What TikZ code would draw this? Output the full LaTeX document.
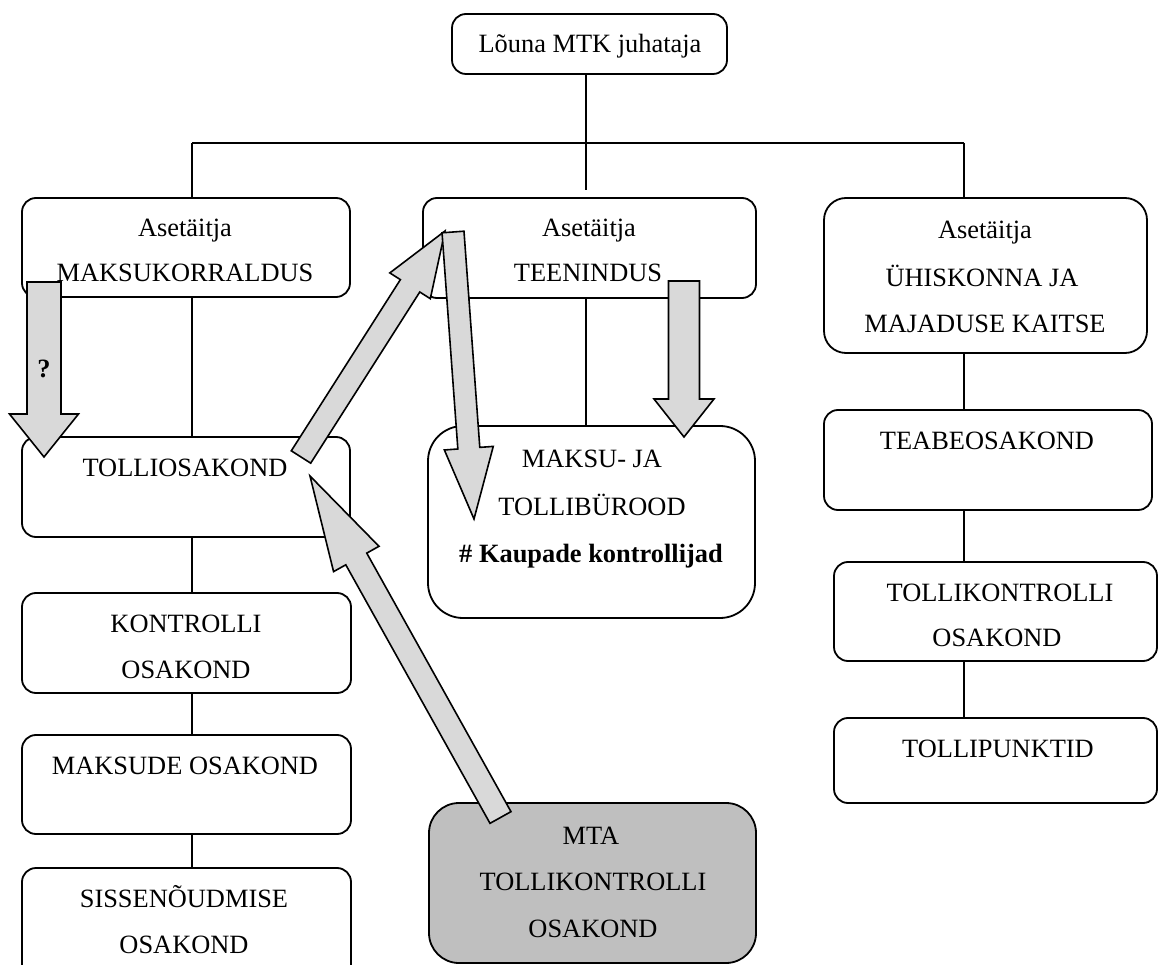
\documentclass[tikz,border=0pt]{standalone}
\usepackage{fontspec}
\setmainfont{Liberation Serif}
\usetikzlibrary{calc}
\definecolor{arrowgray}{RGB}{217,217,217}
\definecolor{boxgray}{RGB}{191,191,191}
% block arrow: tail, tip, shaft half width, head half width, head length
\newcommand{\blockarr}[5]{%
  \path ($(#2)!#5!(#1)$) coordinate (hb);
  \draw[barrow] ($(#1)!#3!90:(#2)$) -- ($(hb)!#3!90:(#2)$) -- ($(hb)!#4!90:(#2)$)
    -- (#2) -- ($(hb)!#4!-90:(#2)$) -- ($(hb)!#3!-90:(#2)$) -- ($(#1)!#3!-90:(#2)$) -- cycle;
}
\begin{document}
\begin{tikzpicture}[x=1pt,y=-1pt,
  box/.style={draw, line width=1.8pt, rounded corners=14pt, inner sep=0pt, fill=white},
  txt/.style={inner sep=0pt, anchor=base, font=\fontsize{26.4}{30}\selectfont},
  btxt/.style={txt, font=\fontsize{26.4}{30}\selectfont\bfseries},
  conn/.style={line width=1.8pt},
  barrow/.style={draw, fill=arrowgray, line width=1.6pt, line join=miter, miter limit=10}]
\useasboundingbox (0,0) rectangle (1160,965);
\clip (0,0) rectangle (1160,965);
\fill[white] (0,0) rectangle (1160,965);

% helper coordinates for connector columns
\coordinate (lx) at (192,0);
\coordinate (mx) at (586,0);
\coordinate (rx) at (964,0);
\coordinate (busL) at (192,143);
\coordinate (busR) at (964,143);
\coordinate (stub) at (586,190);

% boxes
\node[box, minimum width=275pt, minimum height=60pt] (top) at (589.5,44) {};
\node[box, minimum width=328pt, minimum height=99pt] (mk) at (186,247.5) {};
\node[box, minimum width=333pt, minimum height=100pt] (te) at (589.5,248) {};
\node[box, minimum width=323pt, minimum height=155pt, rounded corners=22pt] (uh) at (985.5,275.5) {};
\node[box, minimum width=328pt, minimum height=100pt] (tol) at (186,487) {};
\node[box, minimum width=329pt, minimum height=100pt] (kon) at (186.5,643) {};
\node[box, minimum width=329pt, minimum height=99pt] (mak) at (186.5,784.5) {};
\node[box, minimum width=329pt, minimum height=122pt] (sis) at (186.5,929) {};
\node[box, minimum width=327pt, minimum height=192pt, rounded corners=35pt] (mtb) at (591.5,522) {};
\node[box, minimum width=327pt, minimum height=160pt, rounded corners=30pt, fill=boxgray] (mta) at (592.5,883) {};
\node[box, minimum width=328pt, minimum height=100pt] (teab) at (988,460) {};
\node[box, minimum width=323pt, minimum height=99pt] (tk) at (995.5,611.5) {};
\node[box, minimum width=323pt, minimum height=85pt] (tp) at (995.5,760.5) {};

% connectors
\draw[conn] (mx |- top.south) -- (stub);
\draw[conn] (busL) -- (busR);
\draw[conn] (busL) -- (busL |- mk.north);
\draw[conn] (busR) -- (busR |- uh.north);
\draw[conn] (lx |- mk.south) -- (lx |- tol.north);
\draw[conn] (lx |- tol.south) -- (lx |- kon.north);
\draw[conn] (lx |- kon.south) -- (lx |- mak.north);
\draw[conn] (lx |- mak.south) -- (lx |- sis.north);
\draw[conn] (mx |- te.south) -- (mx |- mtb.north);
\draw[conn] (rx |- uh.south) -- (rx |- teab.north);
\draw[conn] (rx |- teab.south) -- (rx |- tk.north);
\draw[conn] (rx |- tk.south) -- (rx |- tp.north);

% texts
\node[txt] (ttop) at (590,53) {Lõuna MTK juhataja};
\node[txt] (tmk1) at (185,237) {Asetäitja};
\node[txt] (tmk2) at (185,282) {MAKSUKORRALDUS};
\node[txt] (tte1) at (589,237) {Asetäitja};
\node[txt] (tte2) at (588,282) {TEENINDUS};
\node[txt] (tuh1) at (985,239) {Asetäitja};
\node[txt] (tuh2) at (982,287) {ÜHISKONNA JA};
\node[txt] (tuh3) at (985,333) {MAJADUSE KAITSE};
\node[txt] (ttol) at (185,477) {TOLLIOSAKOND};
\node[txt] (tkon1) at (186,632) {KONTROLLI};
\node[txt] (tkon2) at (186,678) {OSAKOND};
\node[txt] (tmak) at (185,774) {MAKSUDE OSAKOND};
\node[txt] (tsis1) at (184,907) {SISSENÕUDMISE};
\node[txt] (tsis2) at (184,953) {OSAKOND};
\node[txt] (tmtb1) at (592,468) {MAKSU- JA};
\node[txt] (tmtb2) at (592,515) {TOLLIBÜROOD};
\node[btxt] (tmtb3) at (591,562) {\# Kaupade kontrollijad};
\node[txt] (tmta1) at (591,844) {MTA};
\node[txt] (tmta2) at (593,890) {TOLLIKONTROLLI};
\node[txt] (tmta3) at (593,937) {OSAKOND};
\node[txt] (tteab) at (987,450) {TEABEOSAKOND};
\node[txt] (ttk1) at (1000,601) {TOLLIKONTROLLI};
\node[txt] (ttk2) at (997,646) {OSAKOND};
\node[txt] (ttp) at (998,757) {TOLLIPUNKTID};

% block arrows
\coordinate (a1t) at (44,282);   \coordinate (a1h) at (44,457);
\coordinate (a2t) at (684,281);  \coordinate (a2h) at (684,437);
\coordinate (a3t) at (301,457);  \coordinate (a3h) at (445,231);
\coordinate (a4t) at (453,232);  \coordinate (a4h) at (474,519);
\coordinate (a5t) at (500.5,817.5); \coordinate (a5h) at (310,476);
\blockarr{a1t}{a1h}{17pt}{34.5pt}{43pt}
\blockarr{a2t}{a2h}{15.5pt}{30pt}{38pt}
\blockarr{a3t}{a3h}{11.5pt}{24pt}{65pt}
\blockarr{a4t}{a4h}{11pt}{24.5pt}{71pt}
\blockarr{a5t}{a5h}{12pt}{26pt}{95pt}

\node[btxt] (q) at (44,378) {?};
\end{tikzpicture}
\end{document}
